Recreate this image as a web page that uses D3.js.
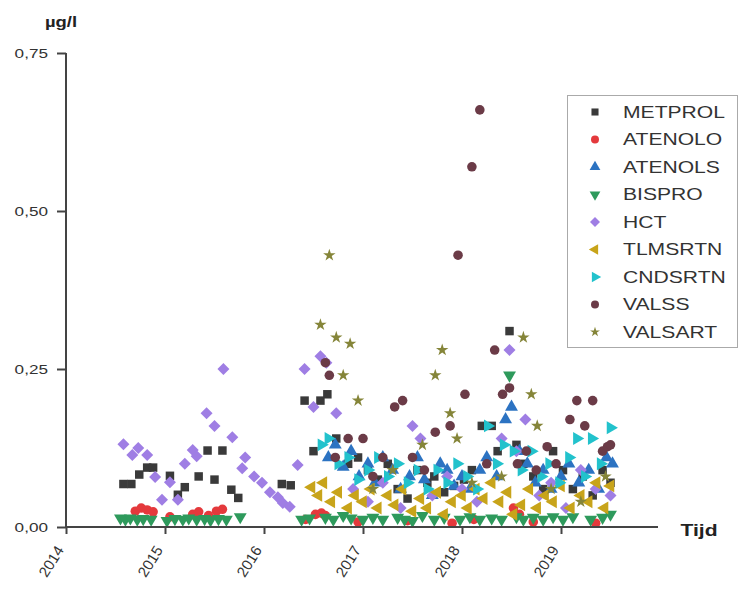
<!DOCTYPE html>
<html>
<head>
<meta charset="utf-8">
<script src="https://cdn.jsdelivr.net/npm/d3@7"></script>
<style>
  body { margin: 0; background: #fff; }
  svg { display: block; font-family: Arial, "Liberation Sans", sans-serif; }
</style>
</head>
<body>
<svg id="chart" width="739" height="592"></svg>
<script>
/* Concentrations per substance over time, scatter with one symbol per series. */

var yearTicks = [2014, 2015, 2016, 2017, 2018, 2019];
var valueTicks = [0, 0.25, 0.5, 0.75];

// [year, µg/l]
var metprol = [[2014.58,.068],[2014.66,.068],[2014.74,.083],[2014.82,.094],[2014.88,.094],[2015.05,.081],[2015.13,.051],[2015.2,.063],[2015.34,.08],[2015.43,.121],[2015.5,.075],[2015.58,.121],[2015.67,.059],[2015.74,.046],[2016.18,.068],[2016.27,.066],[2016.41,.20],[2016.5,.12],[2016.57,.20],[2016.64,.21],[2016.73,.14],[2016.85,.10],[2016.95,.11],[2017.05,.09],[2017.15,.075],[2017.25,.10],[2017.35,.06],[2017.45,.045],[2017.55,.09],[2017.65,.07],[2017.72,.08],[2017.82,.055],[2017.92,.065],[2018.02,.075],[2018.1,.09],[2018.2,.16],[2018.3,.16],[2018.36,.12],[2018.48,.31],[2018.55,.13],[2018.62,.10],[2018.72,.08],[2018.82,.06],[2018.92,.12],[2019.02,.09],[2019.12,.06],[2019.22,.08],[2019.32,.05],[2019.42,.09],[2019.5,.07]];
var atenolo = [[2014.7,.025],[2014.76,.03],[2014.82,.027],[2014.88,.024],[2015.05,.016],[2015.28,.02],[2015.34,.024],[2015.44,.018],[2015.52,.025],[2015.58,.028],[2016.42,.012],[2016.52,.02],[2016.58,.022],[2016.62,.018],[2016.95,.008],[2017.45,.01],[2017.9,.006],[2018.12,.012],[2018.52,.03],[2018.58,.02],[2018.72,.008],[2019.35,.006]];
var atenols = [[2016.65,.11],[2016.72,.13],[2016.8,.095],[2016.88,.12],[2016.96,.08],[2017.05,.10],[2017.12,.07],[2017.2,.11],[2017.3,.09],[2017.38,.06],[2017.47,.08],[2017.55,.11],[2017.62,.075],[2017.7,.05],[2017.78,.10],[2017.85,.09],[2017.92,.065],[2018.0,.08],[2018.08,.06],[2018.18,.09],[2018.25,.11],[2018.35,.08],[2018.44,.17],[2018.5,.19],[2018.58,.12],[2018.66,.10],[2018.74,.07],[2018.82,.09],[2018.9,.06],[2019.0,.08],[2019.08,.10],[2019.18,.07],[2019.28,.09],[2019.38,.06],[2019.46,.11],[2019.52,.10]];
var bispro = [[2014.55,.014],[2014.6,.012],[2014.65,.014],[2014.72,.012],[2014.78,.013],[2014.86,.012],[2015.02,.01],[2015.1,.013],[2015.18,.012],[2015.24,.014],[2015.32,.012],[2015.4,.013],[2015.46,.011],[2015.54,.013],[2015.62,.012],[2015.76,.016],[2016.38,.012],[2016.46,.014],[2016.62,.015],[2016.7,.012],[2016.8,.018],[2016.88,.014],[2017.0,.012],[2017.1,.015],[2017.2,.012],[2017.35,.015],[2017.42,.012],[2017.5,.01],[2017.6,.018],[2017.72,.012],[2017.82,.015],[2017.98,.012],[2018.08,.016],[2018.18,.012],[2018.3,.014],[2018.4,.012],[2018.48,.24],[2018.55,.016],[2018.62,.012],[2018.72,.015],[2018.82,.012],[2018.92,.016],[2019.02,.012],[2019.12,.016],[2019.3,.012],[2019.42,.015],[2019.5,.02]];
var hct = [[2014.58,.131],[2014.67,.114],[2014.73,.125],[2014.82,.114],[2014.9,.079],[2014.97,.043],[2015.05,.071],[2015.13,.043],[2015.2,.10],[2015.28,.122],[2015.32,.112],[2015.42,.18],[2015.5,.16],[2015.59,.25],[2015.68,.142],[2015.78,.093],[2015.81,.11],[2015.9,.08],[2015.98,.07],[2016.06,.055],[2016.14,.047],[2016.19,.038],[2016.26,.032],[2016.34,.098],[2016.41,.25],[2016.5,.19],[2016.57,.27],[2016.63,.26],[2016.73,.18],[2016.9,.06],[2017.05,.04],[2017.2,.07],[2017.38,.03],[2017.5,.16],[2017.58,.14],[2017.7,.05],[2017.85,.08],[2018.0,.06],[2018.15,.04],[2018.4,.14],[2018.48,.28],[2018.55,.12],[2018.64,.17],[2018.78,.05],[2018.9,.07],[2019.05,.03],[2019.2,.09],[2019.35,.06],[2019.5,.05]];
var tlmsrtn = [[2016.48,.063],[2016.55,.05],[2016.6,.07],[2016.68,.04],[2016.75,.055],[2016.85,.03],[2016.92,.05],[2017.0,.04],[2017.08,.06],[2017.15,.03],[2017.25,.05],[2017.32,.035],[2017.4,.06],[2017.5,.025],[2017.58,.045],[2017.65,.03],[2017.75,.055],[2017.82,.02],[2017.9,.04],[2018.0,.05],[2018.06,.03],[2018.14,.06],[2018.22,.045],[2018.3,.07],[2018.38,.04],[2018.46,.055],[2018.52,.02],[2018.6,.035],[2018.68,.06],[2018.76,.03],[2018.84,.05],[2018.92,.04],[2019.0,.065],[2019.1,.03],[2019.2,.05],[2019.28,.04],[2019.36,.07],[2019.44,.03],[2019.5,.065]];
var cndsrtn = [[2016.58,.13],[2016.65,.14],[2016.75,.10],[2016.85,.11],[2016.95,.075],[2017.05,.09],[2017.15,.11],[2017.25,.08],[2017.35,.10],[2017.45,.07],[2017.55,.09],[2017.65,.06],[2017.75,.09],[2017.85,.07],[2017.95,.10],[2018.05,.08],[2018.15,.06],[2018.26,.16],[2018.35,.10],[2018.42,.13],[2018.52,.12],[2018.6,.09],[2018.7,.12],[2018.8,.08],[2018.88,.10],[2018.98,.07],[2019.08,.11],[2019.16,.14],[2019.24,.08],[2019.31,.14],[2019.4,.10],[2019.5,.157]];
var valss = [[2016.62,.26],[2016.66,.24],[2016.72,.11],[2016.85,.14],[2017.0,.14],[2017.1,.08],[2017.2,.11],[2017.32,.19],[2017.4,.20],[2017.5,.11],[2017.62,.09],[2017.73,.15],[2017.88,.16],[2017.96,.43],[2018.03,.21],[2018.1,.57],[2018.18,.66],[2018.25,.10],[2018.33,.28],[2018.41,.21],[2018.48,.22],[2018.56,.10],[2018.65,.12],[2018.75,.09],[2018.86,.127],[2018.95,.10],[2019.09,.17],[2019.16,.20],[2019.24,.16],[2019.32,.20],[2019.42,.12],[2019.47,.127],[2019.5,.13]];
var valsart = [[2016.57,.32],[2016.66,.43],[2016.73,.30],[2016.8,.24],[2016.87,.29],[2016.95,.20],[2017.1,.06],[2017.3,.09],[2017.6,.13],[2017.73,.24],[2017.8,.28],[2017.88,.18],[2017.95,.14],[2018.1,.07],[2018.4,.08],[2018.62,.30],[2018.7,.21],[2018.76,.16],[2018.9,.06],[2019.2,.04],[2019.45,.08]];

var names = ["METPROL", "ATENOLO", "ATENOLS", "BISPRO", "HCT", "TLMSRTN", "CNDSRTN", "VALSS", "VALSART"];
var seriesData = [metprol, atenolo, atenols, bispro, hct, tlmsrtn, cndsrtn, valss, valsart];

var colorsBy = ["#3a3a3a", "#e4393c", "#2c73c2", "#2e9a5c", "#9f7ee4", "#c8a41a", "#22c2cc", "#6b3b47", "#858539"];
var shapes = [
  { t: d3.symbolSquare, r: 0 },
  { t: d3.symbolCircle, r: 0 },
  { t: d3.symbolTriangle, r: 0 },
  { t: d3.symbolTriangle, r: 180 },
  { t: d3.symbolSquare, r: 45 },
  { t: d3.symbolTriangle, r: -90 },
  { t: d3.symbolTriangle, r: 90 },
  { t: d3.symbolCircle, r: 0 },
  { t: d3.symbolStar, r: 0 }
];
var stretch = 1.32; // text in the source is widened horizontally

var svg = d3.select("#chart");
var x = d3.scaleLinear().domain([2014, 2020]).range([66, 660]);
var y = d3.scaleLinear().domain([0, 0.75]).range([527, 53]);
var fmt = function (v) { return d3.format(".2f")(v).replace(".", ","); };

// points
seriesData.forEach(function (pts, i) {
  var sym = d3.symbol().type(shapes[i].t).size(i === 8 ? 48 : 72);
  svg.append("g").selectAll("path").data(pts).join("path")
    .attr("d", sym)
    .attr("transform", function (d) { return "translate(" + x(d[0]) + "," + y(d[1]) + ") rotate(" + shapes[i].r + ")"; })
    .attr("fill", colorsBy[i]);
});

// axes
var yAxis = svg.append("g").attr("transform", "translate(66,0)")
  .call(d3.axisLeft(y).tickValues(valueTicks).tickFormat(fmt).tickSize(9));
var xAxis = svg.append("g").attr("transform", "translate(0,527)")
  .call(d3.axisBottom(x).tickValues(yearTicks).tickFormat(d3.format("d")).tickSize(7).tickSizeOuter(0));
[yAxis, xAxis].forEach(function (a) {
  a.select(".domain").attr("stroke", "#444").attr("stroke-width", 2);
  a.selectAll(".tick line").attr("stroke", "#444").attr("stroke-width", 2);
  a.selectAll("text").attr("fill", "#333").attr("font-family", "Arial, 'Liberation Sans', sans-serif");
});
yAxis.select(".domain").attr("d", "M0,53V527");
xAxis.select(".domain").attr("d", "M66,0H658");
yAxis.selectAll(".tick text")
  .attr("x", 0).attr("font-size", 13)
  .attr("transform", "translate(-18,0) scale(" + stretch + ",1)");
xAxis.selectAll(".tick text")
  .attr("y", 0).attr("dy", 0)
  .attr("text-anchor", "end")
  .attr("font-size", 15)
  .attr("transform", "translate(-2,23) rotate(-58)");

svg.append("text").attr("text-anchor", "middle")
  .attr("transform", "translate(61,27) scale(" + stretch + ",1)")
  .attr("font-size", 14).attr("font-weight", "bold").attr("fill", "#222").text("µg/l");
svg.append("text").attr("text-anchor", "middle")
  .attr("transform", "translate(699,536) scale(" + stretch + ",1)")
  .attr("font-size", 16).attr("font-weight", "bold").attr("fill", "#222").text("Tijd");

// legend
var lg = svg.append("g");
lg.append("rect").attr("x", 567.5).attr("y", 95.5).attr("width", 170).attr("height", 252)
  .attr("fill", "#fff").attr("stroke", "#aaa");
names.forEach(function (n, i) {
  var ly = 112 + i * 27.5;
  lg.append("path")
    .attr("d", d3.symbol().type(shapes[i].t).size(i === 8 ? 30 : 50))
    .attr("transform", "translate(595," + ly + ") rotate(" + shapes[i].r + ")")
    .attr("fill", colorsBy[i]);
  lg.append("text").attr("dy", "0.36em")
    .attr("transform", "translate(623," + ly + ") scale(" + stretch + ",1)")
    .attr("font-size", 16).attr("fill", "#333").text(n);
});
</script>
</body>
</html>
